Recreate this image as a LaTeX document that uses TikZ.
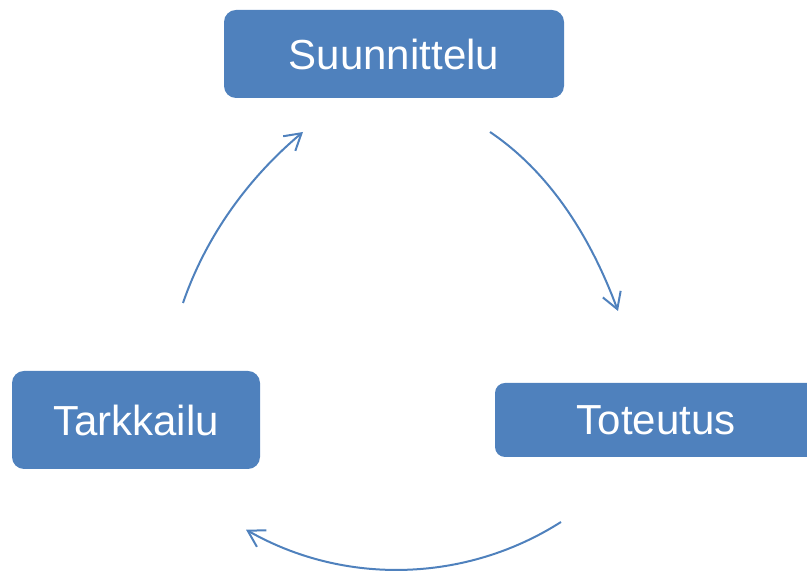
\documentclass[tikz,border=0pt]{standalone}
\usepackage{fontspec}
\setmainfont{Liberation Sans}
\usetikzlibrary{arrows.meta}
\definecolor{boxblue}{HTML}{4F81BD}
\begin{document}
\begin{tikzpicture}[x=1pt,y=1pt,
  stagebox/.style={fill=boxblue, draw=none, text=white, rounded corners=12pt,
    font=\fontsize{42}{46}\selectfont, inner sep=0pt, anchor=center},
  cyclearrow/.style={draw=boxblue, line width=2pt,
    -{Straight Barb[length=16pt,width=19pt,line width=2pt]}}]
\useasboundingbox (0,0) rectangle (807,572);
\clip (0,0) rectangle (807,572);
\node[stagebox, minimum width=340pt, minimum height=88pt] (suun) at (394,518) {Suunnittelu};
\node[stagebox, minimum width=248pt, minimum height=98pt] (tark) at (136,152) {Tarkkailu};
\node[stagebox, rounded corners=10pt, minimum width=322pt, minimum height=74pt] (tote) at (656,152) {Toteutus};
\coordinate (a1s) at (490,440);
\coordinate (a1e) at (618,261);
\coordinate (a2s) at (561,50);
\coordinate (a3s) at (183,269);
\coordinate (a3e) at (303,440);
\draw[cyclearrow] (a1s) .. controls (553.6,397.1) and (593,328.5) .. (a1e);
\draw[cyclearrow] (a2s) arc[start angle=-57.5, end angle=-119.7, radius=305];
\draw[cyclearrow] (a3s) .. controls (206,336) and (248.6,394.4) .. (a3e);
\end{tikzpicture}
\end{document}
